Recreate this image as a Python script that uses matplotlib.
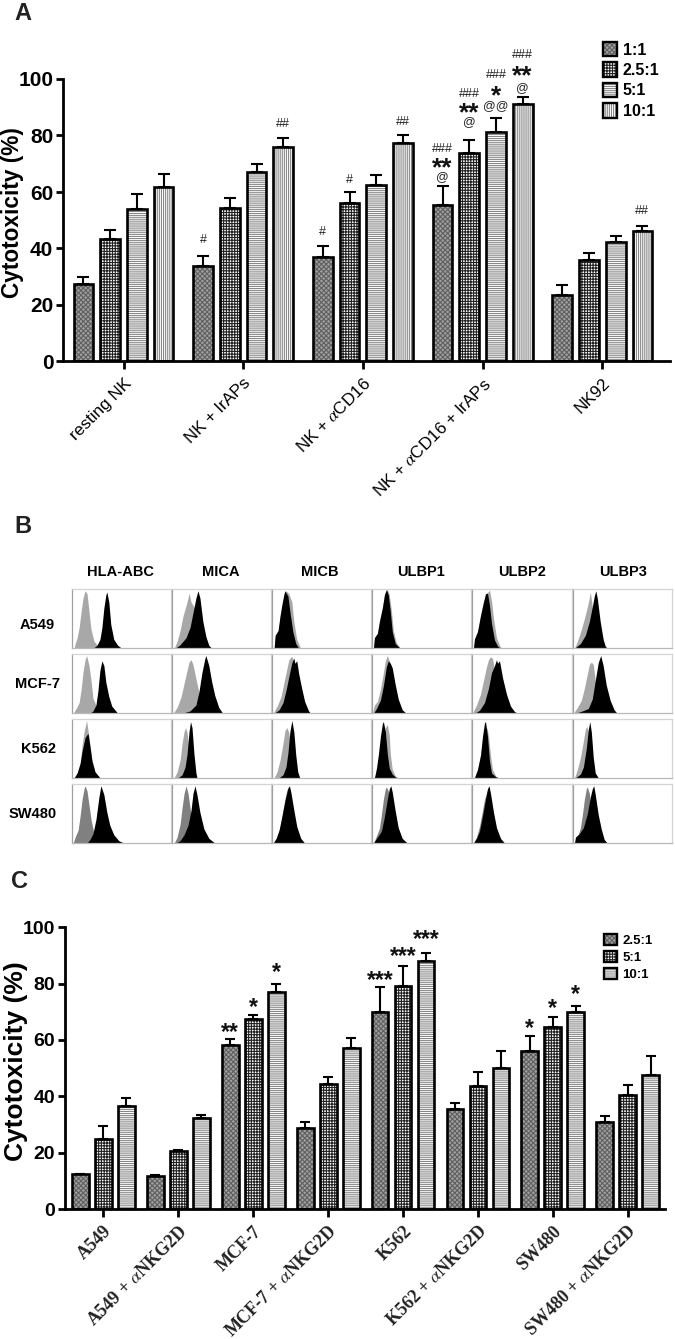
import matplotlib
matplotlib.use('Agg')
import matplotlib.pyplot as plt
import numpy as np
from matplotlib.legend_handler import HandlerTuple
from matplotlib.patches import Patch

plt.rcParams['font.family'] = ['Liberation Sans', 'DejaVu Sans']
plt.rcParams['mathtext.fontset'] = 'stix'
plt.rcParams['hatch.linewidth'] = 0.8

W, H = 675, 1339

# panel A
groups_a = ['resting NK', 'NK + IrAPs', 'NK + $\\alpha$CD16', 'NK + $\\alpha$CD16 + IrAPs', 'NK92']
ratios_a = ['1:1', '2.5:1', '5:1', '10:1']
a_1 = [27.5, 33.7, 37.0, 55.3, 23.5]
a_25 = [43.3, 54.3, 56.0, 73.7, 36.0]
a_5 = [54.0, 67.0, 62.5, 81.3, 42.3]
a_10 = [61.7, 76.0, 77.3, 91.0, 46.2]
a_1_top = [30.0, 37.5, 41.0, 62.0, 27.0]
a_25_top = [46.5, 58.0, 60.0, 78.5, 38.3]
a_5_top = [59.3, 70.0, 66.0, 86.3, 44.3]
a_10_top = [66.5, 79.0, 80.0, 93.5, 47.8]
# (group, series, height, text)
marks_a = [(1, 0, 43, '#'), (2, 0, 45.8, '#'), (2, 1, 64.3, '#'), (1, 3, 84, '##'),
           (2, 3, 84.7, '##'), (4, 3, 53.3, '##'),
           (3, 0, 65.4, '@'), (3, 0, 68.5, '**'), (3, 0, 75.2, '###'),
           (3, 1, 84.7, '@'), (3, 1, 88, '**'), (3, 1, 94.7, '###'),
           (3, 2, 90.4, '@@'), (3, 2, 94, '*'), (3, 2, 101.3, '###'),
           (3, 3, 96.8, '@'), (3, 3, 101, '**'), (3, 3, 108.5, '###')]

# panel C
groups_c = ['A549', 'A549 + $\\alpha$NKG2D', 'MCF-7', 'MCF-7 + $\\alpha$NKG2D',
            'K562', 'K562 + $\\alpha$NKG2D', 'SW480', 'SW480 + $\\alpha$NKG2D']
ratios_c = ['2.5:1', '5:1', '10:1']
c_25 = [12.3, 11.7, 58.3, 28.7, 70.0, 35.6, 56.0, 31.0]
c_5 = [25.0, 20.7, 67.5, 44.5, 79.0, 43.5, 64.7, 40.3]
c_10 = [36.5, 32.3, 77.2, 57.3, 88.0, 50.0, 69.8, 47.5]
c_25_top = [12.6, 12.0, 60.2, 31.0, 78.7, 37.8, 61.5, 33.0]
c_5_top = [29.5, 21.0, 68.7, 47.0, 86.2, 48.5, 68.0, 44.0]
c_10_top = [39.5, 33.5, 79.7, 60.7, 91.0, 56.0, 72.0, 54.3]
marks_c = [(2, 0, 62.5, '**'), (2, 1, 71.5, '*'), (2, 2, 84, '*'),
           (4, 0, 81, '***'), (4, 1, 89.5, '***'), (4, 2, 95.7, '***'),
           (6, 0, 64, '*'), (6, 1, 71, '*'), (6, 2, 76, '*')]

# panel B, histogram outlines read as (x %, height %) inside each box
markers_b = ['HLA-ABC', 'MICA', 'MICB', 'ULBP1', 'ULBP2', 'ULBP3']
cells_b = ['A549', 'MCF-7', 'K562', 'SW480']
a549_grey = [
    [(2, 0), (3, 8), (5, 18), (7, 35), (9, 62), (11, 85), (13, 97), (15, 92), (17, 62), (19, 32), (22, 12), (26, 4), (32, 0)],
    [(2, 0), (5, 12), (8, 30), (11, 55), (14, 72), (16, 85), (17, 93), (19, 78), (22, 70), (25, 45), (28, 18), (31, 5), (34, 0)],
    [(2, 0), (3, 18), (6, 28), (8, 52), (11, 78), (14, 97), (17, 92), (20, 78), (22, 45), (25, 15), (29, 0)],
    [(2, 0), (3, 18), (6, 26), (8, 46), (11, 70), (14, 95), (16, 100), (18, 90), (20, 65), (22, 30), (25, 10), (29, 0)],
    [(2, 0), (3, 15), (6, 28), (9, 55), (12, 80), (15, 92), (18, 98), (20, 80), (22, 50), (25, 18), (28, 5), (30, 0)],
    [(2, 0), (5, 12), (9, 32), (12, 50), (15, 70), (17, 85), (18, 95), (20, 70), (23, 40), (26, 15), (30, 0)],
]
a549_black = [
    [(21, 0), (25, 5), (28, 15), (30, 35), (32, 68), (34, 90), (35, 95), (37, 78), (39, 40), (42, 15), (46, 5), (50, 0)],
    [(3, 0), (8, 6), (14, 18), (18, 35), (21, 60), (24, 85), (26, 97), (28, 85), (31, 45), (34, 20), (37, 5), (40, 0)],
    [(2, 0), (3, 22), (6, 30), (8, 55), (10, 75), (12, 92), (13, 97), (16, 88), (18, 62), (21, 28), (24, 8), (27, 0)],
    [(2, 0), (3, 18), (6, 25), (8, 45), (11, 68), (13, 90), (15, 99), (17, 90), (19, 62), (21, 28), (24, 8), (29, 0)],
    [(2, 0), (3, 16), (6, 28), (9, 55), (12, 78), (14, 92), (16, 93), (18, 72), (20, 42), (23, 14), (26, 4), (29, 0)],
    [(2, 0), (8, 8), (13, 22), (17, 45), (20, 70), (22, 88), (23.5, 97), (25, 85), (28, 45), (31, 15), (33, 4), (35, 0)],
]
mcf7_grey = [
    [(1, 0), (4, 8), (7, 18), (9, 40), (11, 70), (13, 90), (14.5, 97), (17, 80), (19, 55), (21, 25), (25, 10), (30, 3), (36, 0)],
    [(1, 0), (5, 10), (9, 28), (12, 50), (15, 72), (17, 86), (19, 90), (21, 82), (24, 58), (27, 35), (31, 8), (36, 2), (40, 0)],
    [(1, 0), (5, 12), (9, 28), (12, 52), (15, 75), (17, 90), (19, 94), (20, 96), (22, 85), (25, 60), (29, 30), (33, 8), (38, 0)],
    [(1, 0), (3, 14), (6, 20), (9, 40), (12, 68), (14, 88), (16, 97), (18, 88), (20, 62), (23, 30), (27, 10), (32, 0)],
    [(1, 0), (5, 14), (9, 32), (12, 55), (15, 78), (17, 90), (19, 95), (21, 92), (24, 62), (27, 35), (31, 10), (36, 0)],
    [(1, 0), (5, 10), (9, 22), (12, 42), (15, 66), (17, 82), (19, 86), (21, 82), (23, 55), (26, 25), (30, 6), (36, 0)],
]
mcf7_black = [
    [(18, 0), (21, 4), (24, 14), (26, 38), (28, 72), (30, 88), (32, 80), (34, 52), (37, 28), (40, 12), (44, 4), (46, 0)],
    [(10, 0), (18, 4), (24, 14), (27, 36), (30, 68), (33, 92), (34, 97), (37, 80), (40, 52), (43, 30), (47, 10), (51, 0)],
    [(2, 0), (7, 6), (11, 18), (14, 38), (17, 62), (20, 85), (22, 93), (23, 84), (25, 88), (27, 66), (30, 42), (33, 20), (37, 4), (39, 0)],
    [(2, 0), (5, 8), (9, 22), (12, 46), (15, 78), (17, 88), (19, 84), (21, 76), (24, 48), (27, 24), (31, 6), (35, 0)],
    [(3, 0), (8, 5), (13, 18), (17, 42), (20, 68), (23, 80), (25, 90), (26, 84), (28, 88), (31, 60), (35, 32), (39, 12), (43, 3), (46, 0)],
    [(3, 0), (10, 4), (16, 8), (20, 24), (23, 55), (26, 85), (28.5, 97), (31, 80), (34, 48), (38, 22), (42, 6), (45, 0)],
]
k562_grey = [
    [(2, 0), (5, 8), (8, 25), (10, 55), (12, 78), (14.5, 97), (16, 80), (18, 55), (20, 30), (23, 10), (27, 0)],
    [(2, 0), (5, 10), (8, 30), (10, 58), (12, 78), (13.5, 85), (15, 76), (17, 50), (19, 20), (23, 0)],
    [(2, 0), (5, 10), (8, 30), (11, 58), (13, 80), (15, 85), (17, 76), (19, 50), (22, 18), (26, 0)],
    [(3, 0), (6, 12), (9, 40), (12, 72), (14, 85), (16, 90), (18, 72), (19, 40), (21, 14), (24, 3), (27, 0)],
    [(3, 0), (6, 12), (9, 38), (12, 70), (15.5, 85), (17, 70), (19, 38), (21, 14), (25, 0)],
    [(2, 0), (5, 14), (8, 34), (11, 62), (13, 82), (14.5, 87), (16, 78), (18, 48), (20, 18), (24, 0)],
]
k562_black = [
    [(2, 0), (5, 8), (8, 24), (10, 45), (13, 68), (15, 73), (16, 75), (18, 52), (20, 28), (23, 10), (27, 2), (28, 0)],
    [(6, 0), (10, 5), (13, 18), (15, 40), (17, 78), (18.5, 95), (20, 85), (22, 40), (24, 8), (25, 0)],
    [(7, 0), (11, 5), (14, 18), (16, 42), (18, 78), (20, 97), (22, 78), (24, 38), (26, 10), (28, 0)],
    [(3, 0), (5, 16), (7, 40), (9, 70), (11, 92), (12, 95), (14, 78), (16, 40), (18, 16), (21, 6), (25, 0)],
    [(3, 0), (6, 14), (9, 38), (11, 70), (13, 93), (14, 95), (16, 70), (18, 28), (20, 8), (24, 2), (27, 0)],
    [(3, 0), (8, 6), (11, 18), (14, 50), (16, 82), (17.5, 95), (19, 78), (21, 34), (23, 8), (26, 0)],
]
sw480_grey = [
    [(1, 0), (3, 10), (6, 22), (8, 46), (10, 74), (12, 92), (13, 97), (15, 88), (17, 64), (19, 40), (22, 16), (26, 5), (30, 0)],
    [(2, 0), (5, 10), (8, 32), (10, 60), (12, 84), (14, 97), (16, 84), (18, 60), (20, 35), (23, 14), (28, 4), (32, 0)],
    [(2, 0), (5, 10), (8, 26), (10, 46), (13, 75), (15, 90), (17, 96), (19, 80), (21, 48), (24, 20), (28, 0)],
    [(2, 0), (5, 12), (8, 25), (10, 48), (12, 74), (14, 92), (15, 95), (17, 88), (19, 62), (22, 30), (26, 8), (30, 0)],
    [(2, 0), (5, 10), (8, 28), (11, 55), (13, 74), (16, 90), (18, 85), (20, 60), (23, 30), (27, 8), (31, 0)],
    [(2, 0), (5, 10), (8, 26), (10, 48), (12, 74), (14, 92), (15, 95), (17, 84), (19, 52), (22, 20), (26, 8), (30, 0)],
]
sw480_black = [
    [(15, 0), (18, 6), (21, 16), (24, 40), (27, 78), (29, 97), (32, 82), (35, 52), (38, 30), (42, 14), (47, 4), (52, 0)],
    [(4, 0), (8, 4), (12, 14), (16, 30), (19, 55), (21, 84), (23, 97), (25, 82), (28, 52), (32, 24), (37, 8), (43, 0)],
    [(1, 0), (4, 8), (7, 22), (10, 46), (13, 72), (16, 93), (17.5, 97), (19, 86), (22, 56), (25, 28), (29, 8), (33, 0)],
    [(2, 0), (6, 10), (10, 20), (13, 44), (16, 74), (18, 92), (19.5, 97), (21, 86), (24, 54), (27, 26), (31, 8), (36, 0)],
    [(2, 0), (5, 8), (8, 20), (11, 46), (14, 74), (16, 92), (17.5, 97), (19, 84), (22, 52), (25, 26), (29, 8), (33, 0)],
    [(2, 0), (3, 10), (7, 16), (11, 26), (15, 50), (18, 78), (20, 92), (21.5, 97), (23, 82), (26, 48), (29, 24), (32, 6), (35, 0)],
]


def px_axes(left, right, top, bottom):
    return fig.add_axes([left / W, 1 - bottom / H, (right - left) / W, (bottom - top) / H])


def hatched_bar(ax, x, y, width, face, hatch, ink):
    ax.bar(x, y, width, color=face, hatch=hatch, edgecolor=ink, linewidth=0, zorder=2)
    ax.bar(x, y, width, fill=False, edgecolor='black', linewidth=1.9, zorder=3)


def hatched_legend(ax, styles, labels, anchor, size, handle_w, handle_h, spacing, pad):
    handles = []
    for face, hatch, ink in styles:
        handles.append((Patch(facecolor=face, hatch=hatch, edgecolor=ink, linewidth=0),
                        Patch(fill=False, edgecolor='black', linewidth=1.7)))
    ax.legend(handles, labels, handler_map={tuple: HandlerTuple(ndivide=1, pad=0)},
              loc='upper left', bbox_to_anchor=(anchor[0] / W, 1 - anchor[1] / H),
              bbox_transform=fig.transFigure, frameon=False, borderpad=0, borderaxespad=0,
              handlelength=handle_w, handleheight=handle_h, labelspacing=spacing,
              handletextpad=pad, prop={'family': 'Liberation Sans', 'weight': 'bold', 'size': size})


def style_axes(ax, tick_size):
    for side in ['top', 'right']:
        ax.spines[side].set_visible(False)
    for side in ['left', 'bottom']:
        ax.spines[side].set_linewidth(2)
    ax.set_ylim(0, 100)
    ax.set_yticks([0, 20, 40, 60, 80, 100])
    ax.tick_params(axis='y', width=2, length=5, pad=2, labelsize=tick_size)
    ax.tick_params(axis='x', width=2, length=6, pad=4)
    for t in ax.get_yticklabels():
        t.set_fontweight('bold')
        t.set_family(['Liberation Sans Narrow', 'Liberation Sans'])


fig = plt.figure(figsize=(W / 100, H / 100), dpi=100)

# ---- panel A
styles_a = [('#a0a0a0', 'xxxxxxx', '#606060'), ('white', '++++++', '#222222'),
            ('white', '--------', '#888888'), ('white', '||||||||', '#888888')]
ax_a = px_axes(63, 670, 79, 361.5)
pitch_a, step_a, width_a, first_a = 119.7, 26.7, 19.7, 123.5
ax_a.set_xlim((63 - first_a) / pitch_a, (670 - first_a) / pitch_a)
xs = np.arange(len(groups_a))
for i, (vals, tops) in enumerate(zip([a_1, a_25, a_5, a_10], [a_1_top, a_25_top, a_5_top, a_10_top])):
    pos = xs + (i - 1.5) * step_a / pitch_a
    hatched_bar(ax_a, pos, vals, width_a / pitch_a, *styles_a[i])
    err = np.array(tops) - np.array(vals)
    ax_a.errorbar(pos, vals, yerr=[np.zeros(len(err)), err], fmt='none', ecolor='black',
                  elinewidth=1.5, capsize=4.3, capthick=1.5, zorder=1)
style_axes(ax_a, 15)
ax_a.set_xticks(xs)
ax_a.set_xticklabels(groups_a, rotation=45, ha='right', rotation_mode='anchor', fontsize=12.3)
for g, s, y, txt in marks_a:
    big = '*' in txt
    ax_a.text(g + (s - 1.5) * step_a / pitch_a, y, txt, ha='center', va='center',
              fontsize=19 if big else 9, fontweight='bold' if big else 'normal',
              clip_on=False, color='#111111' if big else '#222222')
hatched_legend(ax_a, styles_a, ratios_a, (603, 42), 11.5, 0.85, 1.0, 0.3, 0.4)
fig.text(13 / W, 1 - 213 / H, 'Cytotoxicity (%)', rotation=90, ha='center', va='center',
         fontsize=16.3, fontweight='bold')

# ---- panel B
col_edges = [71.7, 171.7, 271.7, 371, 471, 572, 672]
row_edges = [(589, 648.3), (653.7, 713.3), (718.7, 777.7), (784, 843)]
head_x = [120.7, 220.7, 320, 421, 521.7, 622.7]
cell_x = [37, 38, 38, 33]
cell_y = [625, 684, 749, 814]
greys = [a549_grey, mcf7_grey, k562_grey, sw480_grey]
blacks = [a549_black, mcf7_black, k562_black, sw480_black]
grey_colors = ['#a8a8a8', '#a8a8a8', '#a8a8a8', '#808080']
for r, (top, bottom) in enumerate(row_edges):
    for c in range(6):
        ax = px_axes(col_edges[c] + 0.5, col_edges[c + 1] - 0.5, top, bottom)
        gx, gy = zip(*greys[r][c])
        bx, by = zip(*blacks[r][c])
        ax.fill_between(gx, gy, color=grey_colors[r], linewidth=0)
        ax.fill_between(bx, by, color='black', linewidth=0)
        ax.set_xlim(0, 100)
        ax.set_ylim(0, 100)
        ax.set_xticks([])
        ax.set_yticks([])
        for side in ax.spines:
            ax.spines[side].set_color('#d4d4d4')
            ax.spines[side].set_linewidth(0.9)
        ax.spines['left'].set_color('#a0a0a0')
        ax.spines['bottom'].set_color('#b8b8b8')
for name, x in zip(markers_b, head_x):
    fig.text(x / W, 1 - 572 / H, name, ha='center', va='center', fontsize=10.5, fontweight='bold')
for name, x, y in zip(cells_b, cell_x, cell_y):
    fig.text(x / W, 1 - y / H, name, ha='center', va='center', fontsize=10.5, fontweight='bold')

# ---- panel C
styles_c = [('#a0a0a0', 'xxxxxxx', '#606060'), ('white', '++++++', '#222222'),
            ('white', '--------', '#888888')]
ax_c = px_axes(65, 665, 927.3, 1209)
pitch_c, step_c, width_c, first_c = 74.9, 23, 16.8, 103.4
ax_c.set_xlim((65 - first_c) / pitch_c, (665 - first_c) / pitch_c)
xs = np.arange(len(groups_c))
for i, (vals, tops) in enumerate(zip([c_25, c_5, c_10], [c_25_top, c_5_top, c_10_top])):
    pos = xs + (i - 1) * step_c / pitch_c
    hatched_bar(ax_c, pos, vals, width_c / pitch_c, *styles_c[i])
    err = np.array(tops) - np.array(vals)
    ax_c.errorbar(pos, vals, yerr=[np.zeros(len(err)), err], fmt='none', ecolor='black',
                  elinewidth=1.5, capsize=3.6, capthick=1.5, zorder=1)
style_axes(ax_c, 14)
ax_c.set_xticks(xs)
ax_c.set_xticklabels(groups_c, rotation=45, ha='right', rotation_mode='anchor', fontsize=13,
                     family='Liberation Serif', fontweight='bold', color='#222222')
for g, s, y, txt in marks_c:
    ax_c.text(g + (s - 1) * step_c / pitch_c, y, txt, ha='center', va='center',
              fontsize=16.5, fontweight='bold', clip_on=False, color='#111111')
hatched_legend(ax_c, styles_c, ratios_c, (604, 934), 9.5, 0.95, 0.9, 0.3, 0.45)
fig.text(16 / W, 1 - 1061 / H, 'Cytotoxicity (%)', rotation=90, ha='center', va='center',
         fontsize=19, fontweight='bold')

# panel letters
fig.text(23 / W, 1 - 14 / H, 'A', ha='center', va='center', fontsize=17, fontweight='bold', color='#222222')
fig.text(23 / W, 1 - 527 / H, 'B', ha='center', va='center', fontsize=17, fontweight='bold', color='#222222')
fig.text(20 / W, 1 - 882 / H, 'C', ha='center', va='center', fontsize=17, fontweight='bold', color='#222222')

fig.savefig('out.png', dpi=100)
